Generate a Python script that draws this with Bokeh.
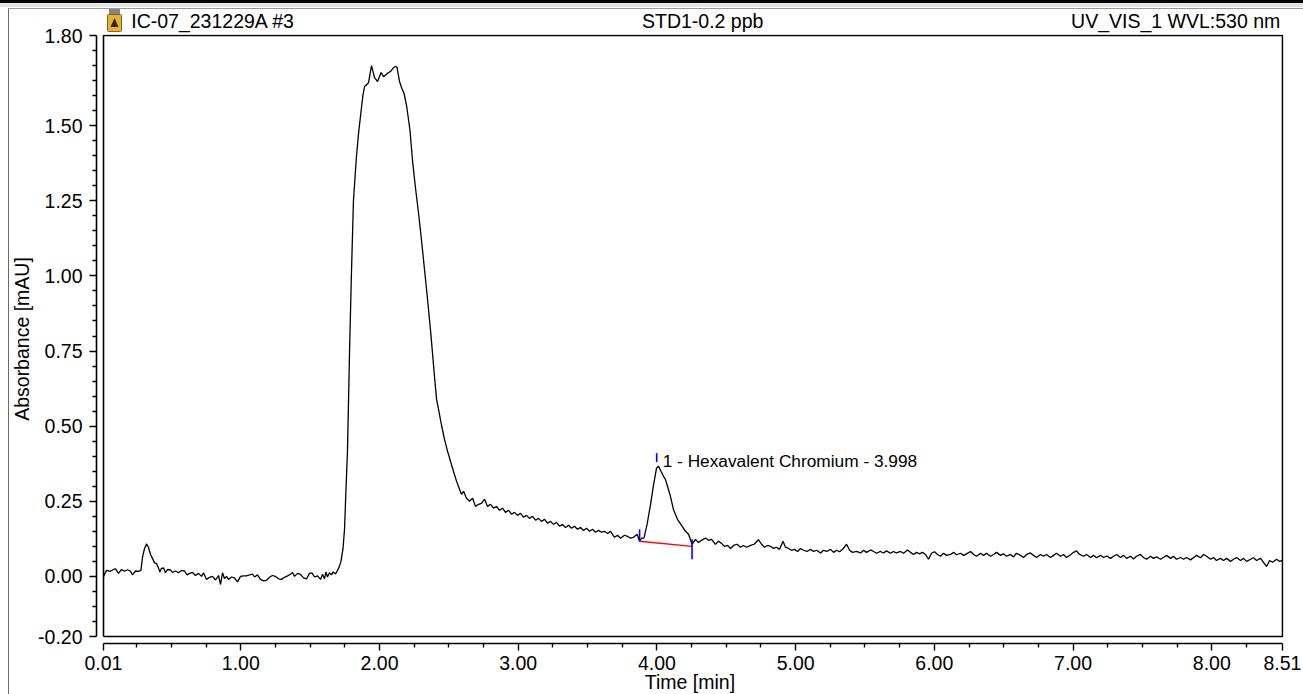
from bokeh.plotting import figure
from bokeh.models import (LinearAxis, FixedTicker, NumeralTickFormatter, Range1d,
                          Label, GlobalInlineStyleSheet)
from bokeh.embed import file_html
from bokeh.resources import INLINE

# ---------------- data ----------------
time_min = [
    0.010, 0.032, 0.060, 0.082, 0.097, 0.118, 0.140, 0.161, 0.183, 0.205, 0.219, 0.241, 0.262, 0.280,
    0.291, 0.306, 0.320, 0.334, 0.349, 0.363, 0.378, 0.392, 0.407, 0.417, 0.428, 0.443, 0.457, 0.471,
    0.493, 0.507, 0.529, 0.551, 0.572, 0.594, 0.612, 0.630, 0.652, 0.673, 0.695, 0.717, 0.731, 0.753,
    0.774, 0.796, 0.818, 0.839, 0.854, 0.868, 0.882, 0.897, 0.911, 0.933, 0.954, 0.976, 0.998, 1.019,
    1.041, 1.063, 1.084, 1.099, 1.120, 1.142, 1.164, 1.185, 1.207, 1.228, 1.250, 1.272, 1.293, 1.315,
    1.337, 1.358, 1.373, 1.387, 1.409, 1.430, 1.452, 1.474, 1.495, 1.513, 1.531, 1.553, 1.575, 1.589,
    1.603, 1.614, 1.625, 1.639, 1.653, 1.665, 1.683, 1.697, 1.708, 1.722, 1.737, 1.748, 1.755,
    1.769, 1.784, 1.798, 1.812, 1.834, 1.850, 1.865, 1.880, 1.892, 1.921, 1.942, 1.964, 1.986, 2.011, 2.029,
    2.054, 2.083, 2.101, 2.112, 2.126, 2.144, 2.162, 2.177, 2.195, 2.220,
    2.238, 2.260, 2.281, 2.303, 2.324, 2.346, 2.368, 2.382, 2.396, 2.411, 2.425, 2.447, 2.468, 2.490,
    2.512, 2.533, 2.555, 2.577, 2.591, 2.606, 2.627, 2.649, 2.671, 2.692, 2.714, 2.735, 2.757, 2.779,
    2.800, 2.822, 2.844, 2.865, 2.887, 2.908, 2.930, 2.952, 2.973, 2.995, 3.016, 3.038, 3.060, 3.081,
    3.103, 3.125, 3.146, 3.168, 3.190, 3.211, 3.233, 3.254, 3.276, 3.298, 3.319, 3.341, 3.363, 3.384,
    3.406, 3.427, 3.449, 3.471, 3.492, 3.514, 3.536, 3.557, 3.579, 3.600, 3.622, 3.644, 3.665, 3.694,
    3.716, 3.738, 3.766, 3.788, 3.810, 3.831, 3.857, 3.875, 3.889, 3.907, 3.929, 3.954, 3.975, 3.997,
    4.011, 4.029, 4.047, 4.061, 4.076, 4.097, 4.119, 4.148, 4.181, 4.206, 4.228, 4.253, 4.278, 4.300,
    4.321, 4.350, 4.372, 4.394, 4.422, 4.444, 4.466, 4.487, 4.509, 4.531, 4.552, 4.577, 4.603, 4.624,
    4.646, 4.675, 4.700, 4.732, 4.754, 4.776, 4.797, 4.819, 4.841, 4.862, 4.884, 4.909, 4.927, 4.949,
    4.970, 4.992, 5.014, 5.035, 5.057, 5.082, 5.107, 5.129, 5.151, 5.180, 5.201, 5.223, 5.252, 5.273,
    5.295, 5.317, 5.338, 5.367, 5.389, 5.410, 5.439, 5.468, 5.490, 5.511, 5.540, 5.562, 5.583, 5.612,
    5.634, 5.655, 5.684, 5.706, 5.727, 5.756, 5.778, 5.806, 5.828, 5.850, 5.872, 5.893, 5.915, 5.936,
    5.958, 5.980, 6.001, 6.023, 6.045, 6.066, 6.088, 6.117, 6.139, 6.160, 6.189, 6.211, 6.232, 6.261,
    6.283, 6.304, 6.333, 6.355, 6.376, 6.405, 6.427, 6.448, 6.477, 6.499, 6.520, 6.549, 6.571, 6.592,
    6.621, 6.643, 6.665, 6.693, 6.715, 6.737, 6.766, 6.787, 6.809, 6.838, 6.859, 6.881, 6.910, 6.931,
    6.953, 6.982, 7.004, 7.025, 7.047, 7.076, 7.097, 7.126, 7.148, 7.169, 7.198, 7.220, 7.242, 7.270,
    7.292, 7.314, 7.342, 7.364, 7.386, 7.414, 7.436, 7.458, 7.486, 7.508, 7.530, 7.559, 7.580, 7.602,
    7.631, 7.652, 7.674, 7.703, 7.724, 7.746, 7.775, 7.797, 7.818, 7.847, 7.869, 7.890, 7.919, 7.941,
    7.962, 7.991, 8.013, 8.034, 8.063, 8.085, 8.107, 8.136, 8.157, 8.179, 8.208, 8.229, 8.251, 8.280,
    8.301, 8.323, 8.352, 8.373, 8.395, 8.417, 8.439, 8.467, 8.489, 8.510,
]
absorbance = [
    0.000, 0.020, 0.017, 0.023, 0.025, 0.010, 0.023, 0.017, 0.022, 0.017, 0.005, 0.018, 0.017, 0.020,
    0.063, 0.093, 0.108, 0.097, 0.073, 0.060, 0.045, 0.043, 0.027, 0.015, 0.027, 0.028, 0.012, 0.023,
    0.022, 0.013, 0.018, 0.012, 0.020, 0.018, 0.005, 0.010, 0.013, 0.003, 0.010, 0.000, 0.012, -0.010,
    -0.003, 0.000, -0.012, 0.003, -0.027, 0.012, -0.007, 0.000, -0.010, -0.002, -0.005, -0.018, 0.000, 0.002,
    0.002, 0.005, 0.008, -0.002, 0.005, -0.010, -0.015, -0.013, -0.003, 0.003, 0.000, -0.008, -0.010, -0.003,
    0.002, 0.007, 0.013, 0.000, 0.010, 0.007, -0.005, -0.008, 0.010, 0.012, -0.002, 0.002, -0.010, 0.007,
    -0.008, 0.015, -0.002, 0.012, 0.005, 0.015, 0.008, 0.020, 0.030, 0.050, 0.093, 0.160, 0.250,
    0.417, 0.750, 1.017, 1.250, 1.400, 1.480, 1.540, 1.600, 1.630, 1.643, 1.700, 1.660, 1.647, 1.677, 1.663,
    1.673, 1.682, 1.693, 1.697, 1.695, 1.647, 1.623, 1.607, 1.567, 1.483,
    1.383, 1.290, 1.210, 1.117, 1.023, 0.923, 0.817, 0.743, 0.667, 0.590, 0.557, 0.503, 0.457, 0.417,
    0.383, 0.350, 0.317, 0.290, 0.273, 0.283, 0.260, 0.250, 0.260, 0.233, 0.240, 0.243, 0.257, 0.233,
    0.240, 0.227, 0.233, 0.220, 0.227, 0.213, 0.220, 0.207, 0.213, 0.203, 0.210, 0.197, 0.203, 0.193,
    0.200, 0.187, 0.193, 0.183, 0.190, 0.177, 0.183, 0.173, 0.180, 0.167, 0.173, 0.163, 0.170, 0.160,
    0.167, 0.157, 0.163, 0.153, 0.160, 0.150, 0.157, 0.147, 0.153, 0.147, 0.150, 0.143, 0.150, 0.130,
    0.137, 0.127, 0.137, 0.133, 0.127, 0.130, 0.140, 0.117, 0.127, 0.128, 0.173, 0.240, 0.303, 0.360,
    0.367, 0.350, 0.333, 0.323, 0.300, 0.267, 0.223, 0.190, 0.167, 0.150, 0.140, 0.107, 0.123, 0.113,
    0.120, 0.128, 0.120, 0.123, 0.107, 0.117, 0.110, 0.100, 0.103, 0.093, 0.103, 0.107, 0.097, 0.103,
    0.097, 0.103, 0.107, 0.122, 0.107, 0.097, 0.103, 0.100, 0.093, 0.097, 0.090, 0.117, 0.097, 0.093,
    0.087, 0.090, 0.083, 0.093, 0.087, 0.083, 0.090, 0.083, 0.087, 0.078, 0.087, 0.083, 0.090, 0.080,
    0.087, 0.082, 0.090, 0.107, 0.087, 0.080, 0.083, 0.078, 0.087, 0.080, 0.088, 0.083, 0.077, 0.083,
    0.078, 0.085, 0.077, 0.083, 0.078, 0.083, 0.077, 0.088, 0.080, 0.073, 0.080, 0.075, 0.080, 0.073,
    0.057, 0.077, 0.082, 0.073, 0.067, 0.077, 0.070, 0.073, 0.080, 0.072, 0.077, 0.070, 0.075, 0.083,
    0.073, 0.067, 0.077, 0.070, 0.077, 0.067, 0.073, 0.080, 0.070, 0.075, 0.067, 0.073, 0.065, 0.077,
    0.070, 0.063, 0.073, 0.078, 0.070, 0.063, 0.073, 0.067, 0.073, 0.063, 0.070, 0.077, 0.067, 0.073,
    0.063, 0.072, 0.080, 0.085, 0.073, 0.067, 0.073, 0.063, 0.070, 0.062, 0.070, 0.063, 0.068, 0.060,
    0.067, 0.073, 0.063, 0.070, 0.060, 0.067, 0.058, 0.067, 0.073, 0.063, 0.057, 0.067, 0.060, 0.065,
    0.057, 0.063, 0.070, 0.060, 0.067, 0.057, 0.063, 0.057, 0.063, 0.055, 0.063, 0.070, 0.062, 0.073,
    0.067, 0.057, 0.063, 0.053, 0.060, 0.053, 0.060, 0.050, 0.057, 0.063, 0.053, 0.060, 0.050, 0.057,
    0.062, 0.053, 0.060, 0.047, 0.033, 0.053, 0.047, 0.057, 0.050, 0.053,
]

# peak integration marks (Hexavalent Chromium)
peak_label = "1 - Hexavalent Chromium - 3.998"
peak_rt = 3.998
peak_start = [3.875, 0.117]
peak_end = [4.253, 0.100]
peak_top_y = 0.367

# header texts and the time value under the centre of each
header_texts = ["IC-07_231229A #3", "STD1-0.2 ppb", "UV_VIS_1 WVL:530 nm"]
header_pos = [0.80, 4.33, 7.74]

# axes
x_lo, x_hi = 0.01, 8.51
y_lo, y_hi = -0.20, 1.80
x_major = [0.01, 1, 2, 3, 4, 5, 6, 7, 8, 8.51]
x_minor = [0.25, 0.5, 0.75, 1.25, 1.5, 1.75, 2.25, 2.5, 2.75, 3.25, 3.5, 3.75,
           4.25, 4.5, 4.75, 5.25, 5.5, 5.75, 6.25, 6.5, 6.75, 7.25, 7.5, 7.75, 8.25]
y_major = [-0.20, 0.00, 0.25, 0.50, 0.75, 1.00, 1.25, 1.50, 1.80]
y_minor = [-0.15, -0.10, -0.05, 0.05, 0.10, 0.15, 0.20, 0.30, 0.35, 0.40, 0.45,
           0.55, 0.60, 0.65, 0.70, 0.80, 0.85, 0.90, 0.95, 1.05, 1.10, 1.15, 1.20,
           1.30, 1.35, 1.40, 1.45, 1.55, 1.60, 1.65, 1.70, 1.75]

FONT = "Liberation Sans"
FS = "19.5px"

W, H = 1303, 697            # a few pixels taller than the window; the overflow is hidden
ML, MR, MT, MB = 96, 20, 34, 54
GAP = 7                     # pixels between axes and the plot box
BOX_W = W - ML - MR - GAP - 1
BOX_H = H - MT - MB - GAP - 1
dx = (x_hi - x_lo) / BOX_W  # data units per pixel
dy = (y_hi - y_lo) / BOX_H

p = figure(width=W, height=H,
           x_range=Range1d(x_lo - GAP * dx, x_hi + dx),
           y_range=Range1d(y_lo - GAP * dy, y_hi + dy),
           x_axis_location=None, y_axis_location=None,
           output_backend="svg", toolbar_location=None,
           min_border_left=ML, min_border_right=MR, min_border_top=MT, min_border_bottom=MB)
p.grid.grid_line_color = None
p.outline_line_color = None
p.border_fill_color = None
p.background_fill_color = "white"

icon = ("url(\"data:image/svg+xml;utf8,<svg xmlns='http://www.w3.org/2000/svg' width='15' height='23'>"
        "<rect x='2' y='0' width='11' height='6' fill='%23858585'/>"
        "<rect x='0.5' y='5.5' width='14' height='17' rx='1' fill='%23e2b233' stroke='%23866414'/>"
        "<path d='M3.5 18 L7.5 9 L11.5 18 Z' fill='%23352500'/></svg>\")")
p.styles = {
    "background": (
        icon + " 107px 9px / 15px 23px no-repeat, "
        "linear-gradient(#000,#000) 0 0 / 100% 3px no-repeat, "
        "linear-gradient(#e4e4e4,#e4e4e4) 0 3px / 100% 4px no-repeat, "
        "linear-gradient(#9a9a9a,#9a9a9a) 8px 8px / 100% 1px no-repeat, "
        "linear-gradient(#6a6a6a,#6a6a6a) 8px 8px / 1px 100% no-repeat, #ffffff"
    )
}
p.stylesheets = [GlobalInlineStyleSheet(css="html, body { overflow: hidden; }")]


def style_axis(ax):
    ax.axis_line_color = "black"
    ax.axis_line_width = 1.6
    ax.major_tick_line_color = "black"
    ax.major_tick_line_width = 1.4
    ax.minor_tick_line_color = "black"
    ax.minor_tick_line_width = 1.4
    ax.major_tick_out = 7
    ax.major_tick_in = 0
    ax.minor_tick_out = 4
    ax.minor_tick_in = 0
    ax.major_label_text_font = FONT
    ax.major_label_text_font_size = FS
    ax.major_label_text_color = "black"
    ax.axis_label_text_font = FONT
    ax.axis_label_text_font_size = FS
    ax.axis_label_text_font_style = "normal"
    ax.axis_label_text_color = "black"


yaxis = LinearAxis(ticker=FixedTicker(ticks=y_major, minor_ticks=y_minor),
                   formatter=NumeralTickFormatter(format="0.00"),
                   axis_label="Absorbance [mAU]", bounds=(y_lo, y_hi))
style_axis(yaxis)
yaxis.major_label_standoff = 7
yaxis.axis_label_standoff = 2
p.add_layout(yaxis, "left")

xaxis = LinearAxis(ticker=FixedTicker(ticks=x_major, minor_ticks=x_minor),
                   formatter=NumeralTickFormatter(format="0.00"),
                   axis_label="Time [min]", bounds=(x_lo, x_hi))
style_axis(xaxis)
xaxis.major_label_standoff = 5
xaxis.axis_label_standoff = -2
p.add_layout(xaxis, "below")

# header row drawn as an axis above the plot
header = LinearAxis(ticker=FixedTicker(ticks=header_pos),
                    major_label_overrides=dict(zip(header_pos, header_texts)))
header.axis_line_color = None
header.major_tick_line_color = None
header.major_tick_out = 0
header.major_tick_in = 0
header.major_label_standoff = 3
header.major_label_text_font = FONT
header.major_label_text_font_size = FS
header.major_label_text_color = "black"
p.add_layout(header, "above")

# plot box
p.line([x_lo, x_hi, x_hi, x_lo, x_lo], [y_lo, y_lo, y_hi, y_hi, y_lo],
       line_color="black", line_width=1.6)

# trace
p.line(time_min, absorbance, line_color="black", line_width=1.3)

# integration baseline and delimiters
p.line([peak_start[0], peak_end[0]], [peak_start[1], peak_end[1]], line_color="red", line_width=1.4)
p.segment(x0=[peak_start[0], peak_end[0], peak_rt],
          y0=[peak_start[1], peak_end[1] - 13 * dy, peak_top_y + 4 * dy],
          x1=[peak_start[0], peak_end[0], peak_rt],
          y1=[peak_start[1] + 12 * dy, peak_end[1] + 7 * dy, peak_top_y + 13 * dy],
          line_color="blue", line_width=1.6)

p.add_layout(Label(x=peak_rt + 6 * dx, y=peak_top_y + 5 * dy, text=peak_label,
                   text_font=FONT, text_font_size="17.3px", text_color="black",
                   text_align="left", text_baseline="alphabetic"))

open("out.html", "w").write(file_html(p, INLINE))
